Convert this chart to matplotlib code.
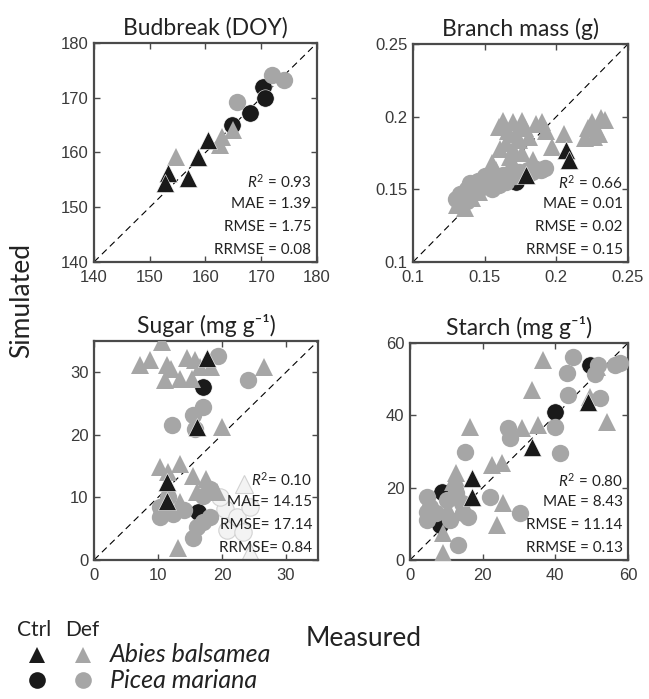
import matplotlib
matplotlib.use("Agg")
import matplotlib.pyplot as plt

# ---- data (measured x, simulated y) ----
# Budbreak (DOY)
bud_ctrl_abies_x = [160.5, 158.7, 153.3, 152.7, 156.9]
bud_ctrl_abies_y = [162.3, 159.2, 156.2, 154.4, 155.3]
bud_def_abies_x = [162.9, 165.0, 162.6, 154.8]
bud_def_abies_y = [162.9, 164.1, 161.4, 159.2]
bud_ctrl_picea_x = [170.4, 170.7, 167.9, 164.7]
bud_ctrl_picea_y = [172.0, 169.9, 167.2, 165.0]
bud_def_picea_x = [165.6, 171.9, 174.0]
bud_def_picea_y = [169.3, 174.2, 173.2]

# Branch mass (g)
br_ctrl_abies_x = [0.207, 0.209, 0.179]
br_ctrl_abies_y = [0.177, 0.170, 0.160]
br_def_abies_x = [0.160, 0.163, 0.166, 0.170, 0.172, 0.176, 0.178, 0.181, 0.186, 0.190,
                  0.193, 0.165, 0.170, 0.174, 0.161, 0.168, 0.176, 0.222, 0.225, 0.228,
                  0.231, 0.234, 0.226, 0.230, 0.220, 0.205, 0.197, 0.184, 0.155, 0.158,
                  0.131, 0.136, 0.141, 0.146, 0.152]
br_def_abies_y = [0.193, 0.197, 0.190, 0.196, 0.188, 0.197, 0.192, 0.186, 0.195, 0.196,
                  0.190, 0.182, 0.178, 0.184, 0.178, 0.172, 0.175, 0.192, 0.196, 0.190,
                  0.199, 0.198, 0.186, 0.188, 0.185, 0.188, 0.179, 0.170, 0.168, 0.163,
                  0.139, 0.137, 0.144, 0.148, 0.152]
br_ctrl_picea_x = [0.172]
br_ctrl_picea_y = [0.155]
br_def_picea_x = [0.130, 0.133, 0.136, 0.138, 0.141, 0.143, 0.146, 0.148, 0.151, 0.153,
                  0.156, 0.158, 0.161, 0.163, 0.166, 0.168, 0.171, 0.174, 0.177, 0.180,
                  0.183, 0.186, 0.189, 0.192, 0.150, 0.145, 0.140, 0.134, 0.138, 0.155,
                  0.160, 0.165]
br_def_picea_y = [0.143, 0.147, 0.145, 0.150, 0.148, 0.152, 0.150, 0.155, 0.153, 0.157,
                  0.155, 0.159, 0.157, 0.160, 0.158, 0.161, 0.159, 0.162, 0.161, 0.163,
                  0.162, 0.164, 0.163, 0.165, 0.159, 0.156, 0.154, 0.140, 0.142, 0.150,
                  0.153, 0.155]

# Sugar (mg g-1)
su_ctrl_abies_x = [17.6, 16.1, 11.4, 11.4]
su_ctrl_abies_y = [32.3, 21.3, 12.4, 9.4]
su_def_abies_x = [10.6, 7.2, 8.75, 11.4, 11.1, 13.4, 14.5, 15.8, 16.6, 15.3, 26.5, 19.95,
                  12.0, 18.3, 10.3, 13.4, 11.6, 15.5, 16.1, 19.2, 13.4, 13.1, 17.5]
su_def_abies_y = [34.9, 31.2, 32.0, 31.2, 28.8, 29.0, 32.3, 32.0, 30.9, 29.0, 30.9, 21.2,
                  30.5, 30.8, 14.8, 15.3, 14.0, 13.4, 10.8, 10.8, 9.2, 1.9, 13.0]
su_ctrl_picea_x = [17.0, 16.3]
su_ctrl_picea_y = [27.7, 7.7]
su_def_picea_x = [19.4, 24.1, 17.0, 15.5, 12.2, 15.8, 10.3, 12.3, 17.0, 18.1, 16.1, 17.0,
                  18.1, 10.3, 15.5, 11.5, 14.0]
su_def_picea_y = [32.6, 28.7, 24.5, 23.1, 21.5, 21.0, 6.9, 7.3, 10.2, 11.3, 5.2, 6.1,
                  6.9, 8.5, 3.5, 10.0, 8.0]
# faint markers in the sugar panel
su_faint_circ_x = [20.8, 20.5, 22.3, 23.3, 24.4, 19.7]
su_faint_circ_y = [4.8, 8.1, 6.9, 4.4, 8.5, 10.0]
su_faint_tri_x = [23.5, 24.4]
su_faint_tri_y = [12.2, 1.3]

# Starch (mg g-1)
st_ctrl_abies_x = [49.1, 33.5, 17.0, 17.0]
st_ctrl_abies_y = [43.8, 31.3, 22.6, 17.5]
st_def_abies_x = [36.7, 33.5, 16.5, 30.7, 35.3, 51.4, 54.1, 49.5, 22.5, 25.2, 25.7, 23.9,
                  12.8, 9.2, 9.2, 11.9, 10.5]
st_def_abies_y = [55.3, 47.0, 36.9, 36.4, 37.3, 53.4, 38.2, 45.1, 26.3, 26.7, 15.7, 9.7,
                  24.0, 1.9, 7.5, 21.5, 14.0]
st_ctrl_picea_x = [49.5, 39.9, 8.7, 8.3]
st_ctrl_picea_y = [53.9, 41.0, 18.9, 9.7]
st_def_picea_x = [45.0, 43.1, 43.6, 51.8, 56.4, 57.8, 52.3, 39.9, 41.3, 27.1, 27.5, 15.1,
                  22.0, 30.3, 4.6, 4.6, 4.6, 13.3, 16.1, 10.1, 12.4, 14.2, 7.3, 11.0,
                  14.7, 5.5, 12.8, 51.0]
st_def_picea_y = [56.2, 51.6, 45.6, 53.9, 53.9, 54.4, 44.7, 36.9, 29.5, 36.4, 33.6, 29.9,
                  17.5, 12.9, 17.5, 13.4, 11.1, 4.1, 12.0, 16.6, 20.3, 15.7, 12.9, 11.1,
                  12.9, 14.7, 18.4, 51.5]

titles = ["Budbreak (DOY)", "Branch mass (g)", "Sugar (mg g\u207b\u00b9)", "Starch (mg g\u207b\u00b9)"]
stats = [
    [r"$\mathit{R}^2$ = 0.93", "MAE = 1.39", "RMSE = 1.75", "RRMSE = 0.08"],
    [r"$\mathit{R}^2$ = 0.66", "MAE = 0.01", "RMSE = 0.02", "RRMSE = 0.15"],
    [r"$\mathit{R}^2$= 0.10", "MAE= 14.15", "RMSE= 17.14", "RRMSE= 0.84"],
    [r"$\mathit{R}^2$ = 0.80", "MAE = 8.43", "RMSE = 11.14", "RRMSE = 0.13"],
]
limits = [(140, 180), (0.1, 0.25), (0, 35), (0, 60)]
ticks = [[140, 150, 160, 170, 180], [0.1, 0.15, 0.2, 0.25], [0, 10, 20, 30], [0, 20, 40, 60]]
tick_labels = [["140", "150", "160", "170", "180"], ["0.1", "0.15", "0.2", "0.25"],
               ["0", "10", "20", "30"], ["0", "20", "40", "60"]]

BLACK = "#1a1a1a"
GRAY = "#a6a6a6"
EDGE = "#4a4a4a"
TXT = "#3a3a3a"
MS_C = 12.5   # circle marker size
MS_T = 13.5   # triangle marker size

plt.rcParams["font.family"] = ["Lato", "DejaVu Sans"]
plt.rcParams["mathtext.fontset"] = "custom"
plt.rcParams["mathtext.rm"] = "Lato"
plt.rcParams["mathtext.it"] = "Lato:italic"


def panel(ax, i, groups, faint=None):
    lo, hi = limits[i]
    ax.plot([lo, hi], [lo, hi], color="k", lw=0.8, dashes=(6, 4), zorder=1)
    if faint is not None:
        fx, fy, tx, ty = faint
        ax.plot(fx, fy, "o", ms=MS_C, mfc="#f3f3f3", mec="#d2d2d2", mew=0.8, ls="none", zorder=2)
        ax.plot(tx, ty, "^", ms=MS_T, mfc="#f3f3f3", mec="#d2d2d2", mew=0.8, ls="none", zorder=2)
    ca_x, ca_y, da_x, da_y, cp_x, cp_y, dp_x, dp_y = groups
    ax.plot(cp_x, cp_y, "o", ms=MS_C, color=BLACK, mec="white", mew=0.4, ls="none", zorder=3)
    ax.plot(dp_x, dp_y, "o", ms=MS_C, color=GRAY, mew=0, ls="none", zorder=4)
    ax.plot(da_x, da_y, "^", ms=MS_T, color=GRAY, mew=0, ls="none", zorder=5)
    ax.plot(ca_x, ca_y, "^", ms=MS_T, color=BLACK, mec="white", mew=0.4, ls="none", zorder=6)

    ax.set_xlim(lo, hi)
    ax.set_ylim(lo, hi)
    ax.set_xticks(ticks[i])
    ax.set_yticks(ticks[i])
    ax.set_xticklabels(tick_labels[i], fontfamily="Liberation Sans")
    ax.set_yticklabels(tick_labels[i], fontfamily="Liberation Sans")
    ax.tick_params(direction="in", top=True, right=True, length=4, width=1,
                   color=EDGE, labelcolor=TXT, labelsize=12)
    ax.tick_params(axis="x", pad=6)
    ax.tick_params(axis="y", pad=4)
    for s in ax.spines.values():
        s.set_color(EDGE)
        s.set_linewidth(1.6)
    ax.set_title(titles[i], fontsize=16.5, color="#222222", pad=6)

    ypos = [0.365, 0.265, 0.16, 0.055]
    for txt, yy in zip(stats[i], ypos):
        ax.text(0.975, yy, txt, transform=ax.transAxes, ha="right", va="center",
                fontsize=11, color="#222222", zorder=10)


fig = plt.figure(figsize=(6.49, 6.99), dpi=100)

ax1 = fig.add_axes([0.1448, 0.6252, 0.3436, 0.3133])
ax2 = fig.add_axes([0.6364, 0.6252, 0.3313, 0.3119])
ax3 = fig.add_axes([0.1448, 0.1989, 0.3451, 0.3133])
ax4 = fig.add_axes([0.6317, 0.1989, 0.3359, 0.3104])

panel(ax1, 0, [bud_ctrl_abies_x, bud_ctrl_abies_y, bud_def_abies_x, bud_def_abies_y,
               bud_ctrl_picea_x, bud_ctrl_picea_y, bud_def_picea_x, bud_def_picea_y])
panel(ax2, 1, [br_ctrl_abies_x, br_ctrl_abies_y, br_def_abies_x, br_def_abies_y,
               br_ctrl_picea_x, br_ctrl_picea_y, br_def_picea_x, br_def_picea_y])
panel(ax3, 2, [su_ctrl_abies_x, su_ctrl_abies_y, su_def_abies_x, su_def_abies_y,
               su_ctrl_picea_x, su_ctrl_picea_y, su_def_picea_x, su_def_picea_y],
      faint=(su_faint_circ_x, su_faint_circ_y, su_faint_tri_x, su_faint_tri_y))
panel(ax4, 3, [st_ctrl_abies_x, st_ctrl_abies_y, st_def_abies_x, st_def_abies_y,
               st_ctrl_picea_x, st_ctrl_picea_y, st_def_picea_x, st_def_picea_y])

fig.text(22 / 649, 1 - 300 / 699, "Simulated", rotation=90, ha="center", va="center",
         fontsize=19, color="#222222")
fig.text(364 / 649, 1 - 638 / 699, "Measured", ha="center", va="center",
         fontsize=19, color="#222222")

# legend block, bottom left
leg = fig.add_axes([0, 0, 0.5, 0.14])
leg.set_xlim(0, 1)
leg.set_ylim(0, 1)
leg.axis("off")
leg.text(0.105, 0.70, "Ctrl", ha="center", va="center", fontsize=15, color="#222222")
leg.text(0.253, 0.70, "Def", ha="center", va="center", fontsize=15, color="#222222")
leg.plot([0.114], [0.45], "^", ms=12, color=BLACK, mew=0)
leg.plot([0.256], [0.45], "^", ms=12, color=GRAY, mew=0)
leg.plot([0.114], [0.19], "o", ms=12, color=BLACK, mew=0)
leg.plot([0.256], [0.19], "o", ms=12, color=GRAY, mew=0)
leg.text(0.339, 0.45, "Abies balsamea", style="italic", ha="left", va="center",
         fontsize=18, color="#222222")
leg.text(0.339, 0.19, "Picea mariana", style="italic", ha="left", va="center",
         fontsize=18, color="#222222")

fig.savefig("out.png", dpi=100)
